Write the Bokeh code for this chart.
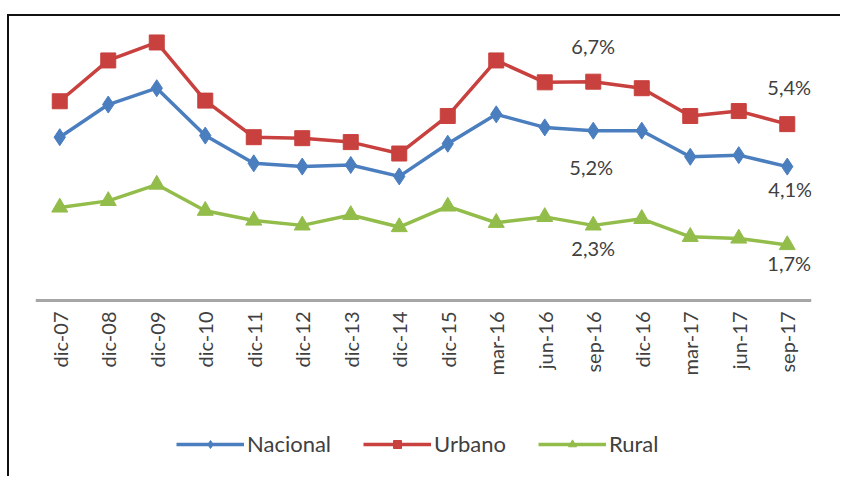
import math
from bokeh.plotting import figure
from bokeh.models import Legend, LegendItem, ColumnDataSource, Range1d, Span
from bokeh.core.properties import value
from bokeh.embed import file_html
from bokeh.resources import INLINE

# ---- data ----
categories = ["dic-07", "dic-08", "dic-09", "dic-10", "dic-11", "dic-12", "dic-13", "dic-14",
              "dic-15", "mar-16", "jun-16", "sep-16", "dic-16", "mar-17", "jun-17", "sep-17"]
nacional = [5.0, 6.0, 6.5, 5.05, 4.2, 4.1, 4.15, 3.8, 4.8, 5.7, 5.3, 5.2, 5.2, 4.4, 4.45, 4.1]
urbano = [6.1, 7.35, 7.9, 6.12, 5.0, 4.97, 4.85, 4.5, 5.65, 7.35, 6.68, 6.7, 6.5, 5.65, 5.8, 5.4]
rural = [2.85, 3.05, 3.55, 2.75, 2.45, 2.3, 2.62, 2.25, 2.88, 2.38, 2.56, 2.3, 2.5, 1.95, 1.9, 1.7]
labeled_categories = ["sep-16", "sep-17"]
series_names = ["Nacional", "Urbano", "Rural"]

FONT = "Lato"
TXT = "#404040"
colors = {"Nacional": "#4a7ebf", "Urbano": "#c8413e", "Rural": "#93bd4a"}
markers = {"Nacional": ("diamond", 17), "Urbano": ("square", 15), "Rural": ("triangle", 16)}
# label offsets in screen px (style), per series and labelled category
label_offsets = {
    ("Urbano", "sep-16"): (0, -36), ("Urbano", "sep-17"): (2, -37),
    ("Nacional", "sep-16"): (-2, 36), ("Nacional", "sep-17"): (3, 22),
    ("Rural", "sep-16"): (0, 23), ("Rural", "sep-17"): (2, 18),
}

# the plot area reaches down to hold the category labels and the legend
p = figure(x_range=categories, y_range=Range1d(-5.205, 8.42), width=833, height=462,
           output_backend="svg", toolbar_location=None,
           min_border_left=26, min_border_right=31, min_border_top=9, min_border_bottom=8)
p.styles = {"border-top": "2px solid #111111", "border-left": "2px solid #111111",
            "margin-top": "14px", "margin-left": "7px"}
p.outline_line_color = None
p.xgrid.visible = False
p.ygrid.visible = False
p.xaxis.visible = False
p.yaxis.visible = False
p.background_fill_color = "white"
p.border_fill_color = "white"

# horizontal category axis line at 0
p.add_layout(Span(location=0, dimension="width", line_color="#a6a6a6", line_width=3))

# category labels, reading upward, hanging under the axis line
p.text(x=categories, y=[0] * len(categories), text=categories, angle=math.pi / 2,
       y_offset=11, text_align="right", text_baseline="middle", text_font=value(FONT),
       text_font_size="20px", text_color=TXT)

data = {"Nacional": nacional, "Urbano": urbano, "Rural": rural}
items = []
for name in series_names:
    src = ColumnDataSource(dict(x=categories, y=data[name]))
    ln = p.line("x", "y", source=src, line_color=colors[name], line_width=3.5)
    mk, sz = markers[name]
    sc = p.scatter("x", "y", source=src, marker=mk, size=sz, fill_color=colors[name],
                   line_color=colors[name])
    items.append(LegendItem(label=name, renderers=[ln, sc]))

# data labels
lx, ly, lt, xo, yo = [], [], [], [], []
for name in series_names:
    for cat in labeled_categories:
        v = data[name][categories.index(cat)]
        lx.append(cat)
        ly.append(v)
        lt.append(f"{v:.1f}%".replace(".", ","))
        ox, oy = label_offsets[(name, cat)]
        xo.append(ox)
        yo.append(oy)
p.text(x="x", y="y", text="t", x_offset="xo", y_offset="yo",
       source=ColumnDataSource(dict(x=lx, y=ly, t=lt, xo=xo, yo=yo)),
       text_align="center", text_baseline="middle", text_font=value(FONT),
       text_font_size="20px", text_color=TXT)

legend = Legend(items=items, orientation="horizontal", location=(141, 13),
                glyph_width=68, glyph_height=20, label_standoff=3, spacing=32,
                label_text_font=FONT, label_text_font_size="22px", label_text_color=TXT,
                border_line_color=None, background_fill_alpha=0, padding=0, margin=0)
p.add_layout(legend, "center")

open("out.html", "w").write(file_html(p, INLINE))
